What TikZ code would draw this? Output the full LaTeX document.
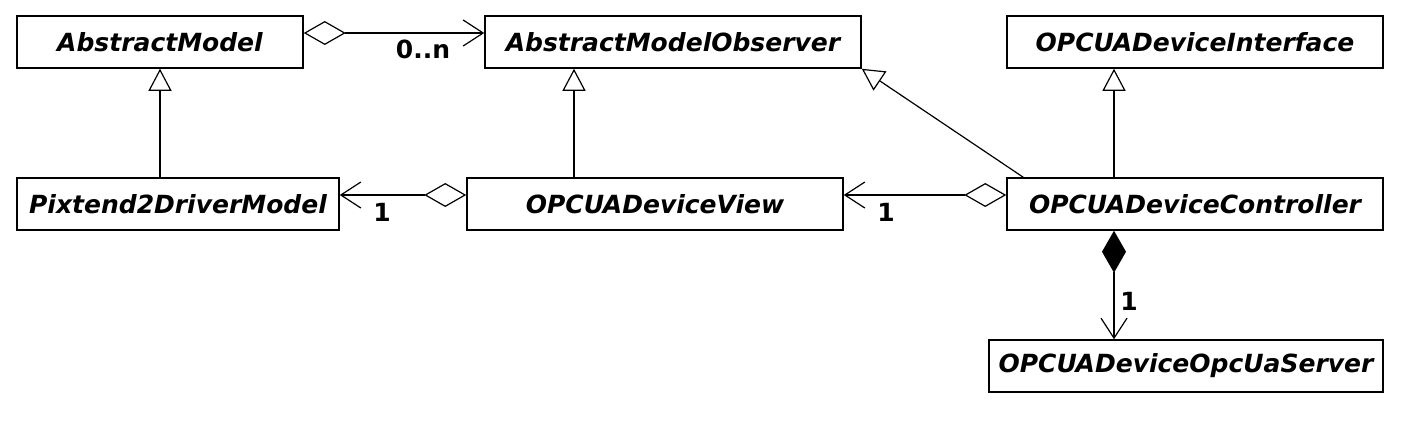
\documentclass[tikz,border=0pt]{standalone}
\usepackage{fontspec}
\setmainfont{DejaVu Sans}
\usetikzlibrary{arrows.meta}
\tikzset{
  cls/.style={draw, line width=1.5pt, minimum height=52pt, inner sep=0pt,
    font=\fontsize{25}{30}\selectfont\bfseries\itshape},
  lbl/.style={font=\fontsize{25}{30}\selectfont\bfseries, inner sep=0pt},
  conn/.style={line width=1.2pt},
  gen/.style={conn, -{Triangle[open, length=22pt, width=23pt, line width=1.2pt]}},
  agg/.style={conn, {Diamond[open, length=42pt, width=24pt, line width=1.2pt]}-{Straight Barb[length=20pt, width=26pt, line width=1.2pt]}},
  comp/.style={conn, {Diamond[length=42pt, width=24pt]}-{Straight Barb[length=20pt, width=26pt, line width=1.2pt]}},
}
\begin{document}
\begin{tikzpicture}[x=1pt, y=-1pt]
\useasboundingbox (0,0) rectangle (1402,426);
\node[cls, minimum width=286pt] (am) at (160,42) {AbstractModel};
\node[cls, minimum width=376pt] (amo) at (673,42) {AbstractModelObserver};
\node[cls, minimum width=376pt] (ifc) at (1195,42) {OPCUADeviceInterface};
\node[cls, minimum width=322pt] (pix) at (178,204) {Pixtend2DriverModel};
\node[cls, minimum width=376pt] (view) at (655,204) {OPCUADeviceView};
\node[cls, minimum width=376pt] (ctl) at (1195,204) {OPCUADeviceController};
\node[cls, minimum width=394pt] (srv) at (1186,366) {OPCUADeviceOpcUaServer};

\draw[agg] ([yshift=9pt]am.east) -- ([yshift=9pt]amo.west);
\node[lbl] (l1) at (423,49) {0..n};

\draw[gen] (pix.north -| am.south) -- (am.south);
\draw[gen] ([xshift=-81pt]view.north) -- ([xshift=-99pt]amo.south);
\draw[gen] ([xshift=17pt]ctl.north west) -- (amo.south east);
\draw[gen] ([xshift=-81pt]ctl.north) -- ([xshift=-81pt]ifc.south);

\draw[agg] ([yshift=9pt]view.west) -- ([yshift=9pt]pix.east);
\node[lbl] (l2) at (382,212) {1};
\draw[agg] ([yshift=9pt]ctl.west) -- ([yshift=9pt]view.east);
\node[lbl] (l3) at (886,212) {1};
\draw[comp] ([xshift=-81pt]ctl.south) -- ([xshift=-72pt]srv.north);
\node[lbl] (l4) at (1129,301) {1};
\end{tikzpicture}
\end{document}
